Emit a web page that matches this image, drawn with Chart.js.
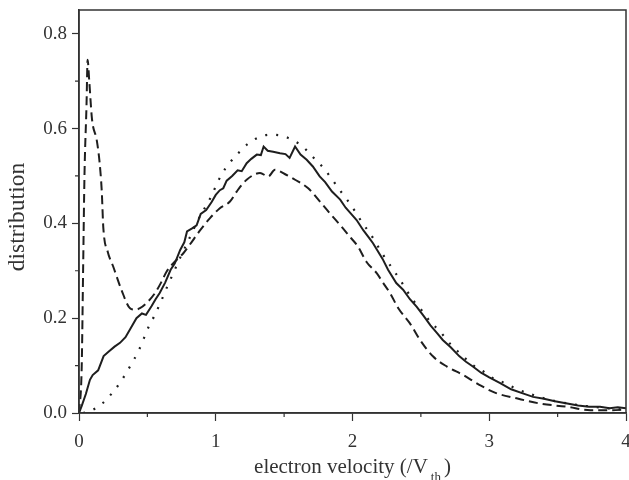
<!DOCTYPE html>
<html><head><meta charset="utf-8">
<script src="https://cdn.jsdelivr.net/npm/chart.js@4/dist/chart.umd.min.js"></script>
<style>html,body{margin:0;padding:0;background:#fff}#w{width:629px;height:480px}</style>
</head><body><div id="w"><canvas id="c"></canvas></div>
<script>
const xTicks = [0, 1, 2, 3, 4];
const xMinor = [0.5, 1.5, 2.5, 3.5];
const yTicks = [0.0, 0.2, 0.4, 0.6, 0.8];
const yMinor = [0.1, 0.3, 0.5, 0.7];
const xTitle = ["electron velocity (/V", "th", ")"];
const yTitle = "distribution";

const solidX = [0,0.02,0.05,0.08,0.10,0.14,0.18,0.22,0.26,0.30,0.34,0.38,0.42,0.46,0.49,0.53,0.56,0.59,0.63,0.67,0.70,0.74,0.77,0.79,0.83,0.86,0.89,0.93,0.97,1.00,1.03,1.055,1.08,1.12,1.16,1.19,1.226,1.26,1.30,1.33,1.35,1.38,1.42,1.47,1.51,1.54,1.58,1.62,1.665,1.71,1.76,1.80,1.85,1.91,1.95,1.99,2.03,2.08,2.12,2.15,2.18,2.22,2.26,2.32,2.37,2.42,2.47,2.52,2.57,2.62,2.66,2.72,2.78,2.83,2.88,2.94,3.00,3.08,3.16,3.24,3.32,3.40,3.48,3.57,3.65,3.73,3.81,3.88,3.94,4.0];
const solidY = [0,0.015,0.04,0.07,0.08,0.09,0.12,0.13,0.14,0.148,0.16,0.18,0.2,0.21,0.207,0.225,0.24,0.253,0.275,0.302,0.315,0.344,0.36,0.383,0.39,0.396,0.42,0.428,0.445,0.46,0.47,0.474,0.49,0.50,0.512,0.51,0.527,0.536,0.545,0.544,0.562,0.553,0.551,0.548,0.546,0.538,0.562,0.545,0.534,0.52,0.499,0.487,0.467,0.45,0.433,0.42,0.407,0.385,0.37,0.358,0.344,0.325,0.302,0.274,0.26,0.24,0.224,0.205,0.185,0.168,0.154,0.138,0.12,0.108,0.098,0.085,0.075,0.063,0.05,0.042,0.034,0.03,0.025,0.02,0.016,0.013,0.013,0.01,0.012,0.01];

const dashedX = [0,0.02,0.03,0.04,0.055,0.063,0.075,0.095,0.13,0.15,0.166,0.178,0.21,0.25,0.31,0.373,0.41,0.446,0.494,0.556,0.6,0.64,0.70,0.763,0.81,0.885,0.958,1.03,1.104,1.153,1.226,1.324,1.384,1.433,1.518,1.58,1.676,1.75,1.835,1.92,1.98,2.04,2.104,2.177,2.225,2.274,2.335,2.42,2.494,2.59,2.69,2.81,2.93,3.05,3.2,3.37,3.57,3.74,3.88,4.0];
const dashedY = [0,0.1,0.3,0.5,0.65,0.745,0.7,0.62,0.575,0.53,0.47,0.39,0.34,0.309,0.26,0.221,0.218,0.221,0.232,0.253,0.275,0.298,0.319,0.337,0.355,0.385,0.411,0.432,0.446,0.467,0.492,0.506,0.499,0.513,0.502,0.492,0.474,0.45,0.421,0.393,0.372,0.351,0.318,0.295,0.274,0.253,0.221,0.189,0.154,0.119,0.098,0.08,0.059,0.042,0.031,0.02,0.013,0.006,0.006,0.007];

const dottedX = [0.03,0.09,0.17,0.245,0.305,0.354,0.397,0.44,0.475,0.51,0.548,0.585,0.62,0.653,0.69,0.726,0.8,0.87,0.96,1.04,1.1,1.165,1.24,1.32,1.40,1.48,1.56,1.64,1.71,1.79,1.85,1.91,1.965,2.02,2.074,2.13,2.225,2.35,2.44,2.505,2.567,2.64,2.71,2.8,2.88,2.96,3.03,3.115,3.19,3.3,3.4,3.5,3.6,3.7,3.8,3.9,4.0];
const dottedY = [0,0.005,0.02,0.043,0.066,0.089,0.11,0.134,0.158,0.182,0.203,0.226,0.249,0.272,0.295,0.319,0.364,0.407,0.453,0.502,0.527,0.548,0.569,0.582,0.587,0.585,0.576,0.561,0.54,0.516,0.493,0.469,0.448,0.425,0.4,0.378,0.333,0.28,0.239,0.217,0.193,0.172,0.147,0.122,0.101,0.087,0.073,0.063,0.052,0.04,0.031,0.024,0.019,0.015,0.012,0.009,0.007];

const pts = (xs, ys) => xs.map((x, i) => ({x: x, y: ys[i]}));
const FONT = "'Liberation Serif','Times New Roman',serif";
const TXT = '#333';
const LINE = '#1e1e1e';

const decor = {
  id: 'decor',
  afterDraw(chart) {
    const ctx = chart.ctx, ca = chart.chartArea;
    const xs = chart.scales.x, ys = chart.scales.y;
    ctx.save();
    ctx.strokeStyle = '#333';
    ctx.lineWidth = 1.5;
    ctx.strokeRect(ca.left, ca.top, ca.right - ca.left, ca.bottom - ca.top);
    ctx.lineWidth = 1.2;
    ctx.beginPath();
    yMinor.forEach(v => { const p = ys.getPixelForValue(v); ctx.moveTo(ca.left - 4, p); ctx.lineTo(ca.left, p); });
    xMinor.forEach(v => { const p = xs.getPixelForValue(v); ctx.moveTo(p, ca.bottom); ctx.lineTo(p, ca.bottom + 4); });
    ctx.stroke();
    // x title with subscript
    ctx.fillStyle = TXT;
    ctx.textBaseline = 'alphabetic';
    ctx.textAlign = 'left';
    const big = '21px ' + FONT, small = '13px ' + FONT;
    ctx.font = big; const w1 = ctx.measureText(xTitle[0]).width;
    ctx.font = small; const w2 = ctx.measureText(xTitle[1]).width;
    ctx.font = big; const w3 = ctx.measureText(xTitle[2]).width;
    const gap = 3;
    const total = w1 + gap + w2 + gap + w3;
    let x0 = (ca.left + ca.right) / 2 - total / 2;
    const base = 473;
    ctx.font = big; ctx.fillText(xTitle[0], x0, base);
    ctx.font = small; ctx.fillText(xTitle[1], x0 + w1 + gap, base + 8);
    ctx.font = big; ctx.fillText(xTitle[2], x0 + w1 + gap + w2 + gap, base);
    // y title
    ctx.translate(24, 217);
    ctx.rotate(-Math.PI / 2);
    ctx.textAlign = 'center';
    ctx.font = '23.5px ' + FONT;
    ctx.fillText(yTitle, 0, 0);
    ctx.restore();
  }
};

new Chart(document.getElementById('c'), {
  type: 'line',
  data: {
    datasets: [
      { data: pts(solidX, solidY), borderColor: LINE, borderWidth: 2, pointRadius: 0, tension: 0, fill: false },
      { data: pts(dashedX, dashedY), borderColor: LINE, borderWidth: 2, borderDash: [9, 5], pointRadius: 0, cubicInterpolationMode: 'monotone', fill: false },
      { data: pts(dottedX, dottedY), borderColor: LINE, borderWidth: 2.2, borderDash: [2, 9], pointRadius: 0, cubicInterpolationMode: 'monotone', fill: false }
    ]
  },
  options: {
    responsive: true,
    maintainAspectRatio: false,
    animation: false,
    events: [],
    layout: { padding: { top: 10, right: 3, left: 0, bottom: 0 } },
    plugins: { legend: { display: false }, tooltip: { enabled: false } },
    scales: {
      x: {
        type: 'linear', min: 0, max: 4,
        afterBuildTicks: s => { s.ticks = xTicks.map(v => ({value: v})); },
        afterFit: s => { s.height = 67; s.paddingLeft = 0; s.paddingRight = 0; },
        ticks: { color: TXT, font: { family: FONT, size: 19 }, padding: 10, maxRotation: 0, callback: v => String(v) },
        grid: { drawOnChartArea: false, drawTicks: true, tickLength: 8, color: '#333', tickWidth: 1.2 },
        border: { color: '#333', width: 1.5 }
      },
      y: {
        type: 'linear', min: 0, max: 0.85,
        afterBuildTicks: s => { s.ticks = yTicks.map(v => ({value: v})); },
        afterFit: s => { s.width = 79; s.paddingTop = 0; s.paddingBottom = 0; },
        ticks: { color: TXT, font: { family: FONT, size: 19 }, padding: 5, callback: v => v.toFixed(1) },
        grid: { drawOnChartArea: false, drawTicks: true, tickLength: 7, color: '#333', tickWidth: 1.2 },
        border: { color: '#333', width: 1.5 }
      }
    }
  },
  plugins: [decor]
});
</script></body></html>
